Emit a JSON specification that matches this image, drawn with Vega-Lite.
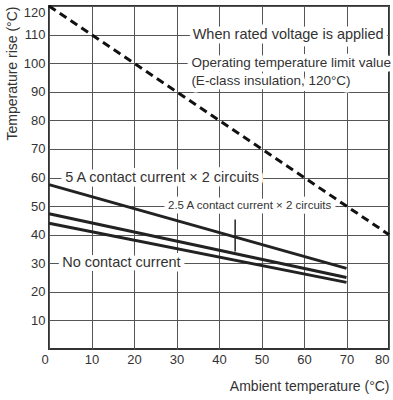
{
  "$schema": "https://vega.github.io/schema/vega-lite/v6.json",
  "width": 340,
  "height": 343,
  "autosize": "none",
  "padding": {"left": 49, "top": 6, "right": 4, "bottom": 51},
  "background": "white",
  "config": {
    "view": {"stroke": "#333", "strokeWidth": 2},
    "font": "Liberation Sans",
    "axis": {"labelOverlap": false, "labelBound": false}
  },
  "datasets": {
    "curves": [
      {"x": 0, "y": 57.5, "series": "5 A contact current × 2 circuits"},
      {"x": 70, "y": 28.2, "series": "5 A contact current × 2 circuits"},
      {"x": 0, "y": 47.3, "series": "2.5 A contact current × 2 circuits"},
      {"x": 70, "y": 25.0, "series": "2.5 A contact current × 2 circuits"},
      {"x": 0, "y": 44.0, "series": "No contact current"},
      {"x": 70, "y": 23.3, "series": "No contact current"}
    ],
    "limit": [
      {"x": 0, "y": 120},
      {"x": 80, "y": 40}
    ],
    "labels": [
      {"x": 33.8, "y": 110, "text": "When rated voltage is applied"},
      {"x": 3.8, "y": 60, "text": "5 A contact current × 2 circuits"},
      {"x": 3.1, "y": 30, "text": "No contact current"}
    ],
    "limitLabels": [
      {"x": 33.5, "y": 100, "text": "Operating temperature limit value"},
      {"x": 33.5, "y": 93.9, "text": "(E-class insulation, 120°C)"}
    ],
    "small": [
      {"x": 28, "y": 50, "text": "2.5 A contact current × 2 circuits"}
    ],
    "leader": [
      {"x": 43.8, "y": 45.3, "y2": 34.1}
    ]
  },
  "encoding": {
    "x": {
      "field": "x", "type": "quantitative",
      "scale": {"domain": [0, 80], "nice": false},
      "axis": {
        "values": [0, 10, 20, 30, 40, 50, 60, 70, 80],
        "grid": true, "gridColor": "#555", "gridWidth": 1,
        "ticks": false, "domain": false, "labelOverlap": false,
        "labelFontSize": 13, "labelColor": "#333", "labelPadding": 4,
        "labelFont": "Liberation Sans",
        "labelOffset": {"condition": {"test": "datum.value == 0", "value": -8}, "value": 0},
        "title": "Ambient temperature (°C)",
        "titleFontSize": 14, "titleFontWeight": "normal", "titleColor": "#333",
        "titleFont": "Liberation Sans",
        "titleX": 340, "titleY": 41, "titleAlign": "right", "titleBaseline": "alphabetic"
      }
    },
    "y": {
      "field": "y", "type": "quantitative",
      "scale": {"domain": [0, 120], "nice": false},
      "axis": {
        "values": [10, 20, 30, 40, 50, 60, 70, 80, 90, 100, 110, 120],
        "grid": true, "gridColor": "#555", "gridWidth": 1,
        "ticks": false, "domain": false, "labelOverlap": false,
        "labelFontSize": 13, "labelColor": "#333", "labelPadding": 4,
        "labelFont": "Liberation Sans",
        "labelFlush": true, "labelFlushOffset": 0,
        "title": "Temperature rise (°C)",
        "titleFontSize": 14, "titleFontWeight": "normal", "titleColor": "#333",
        "titleFont": "Liberation Sans",
        "titleX": -37, "titleY": 0, "titleAlign": "right", "titleBaseline": "middle", "titleAngle": -90
      }
    }
  },
  "layer": [
    {
      "data": {"name": "curves"},
      "mark": {"type": "line", "color": "#222", "strokeWidth": 3},
      "encoding": {"detail": {"field": "series"}}
    },
    {
      "data": {"name": "limit"},
      "mark": {"type": "line", "color": "#111", "strokeWidth": 3, "strokeDash": [8, 5]},
      "encoding": {}
    },
    {
      "data": {"name": "labels"},
      "mark": {"type": "text", "align": "left", "baseline": "middle", "fontSize": 14.5, "font": "Liberation Sans", "color": "white", "stroke": "white", "strokeWidth": 9, "strokeJoin": "round"},
      "encoding": {"text": {"field": "text"}}
    },
    {
      "data": {"name": "labels"},
      "mark": {"type": "text", "align": "left", "baseline": "middle", "fontSize": 14.5, "font": "Liberation Sans", "color": "#333"},
      "encoding": {"text": {"field": "text"}}
    },
    {
      "data": {"name": "limitLabels"},
      "mark": {"type": "text", "align": "left", "baseline": "middle", "fontSize": 13.5, "font": "Liberation Sans", "color": "white", "stroke": "white", "strokeWidth": 9, "strokeJoin": "round"},
      "encoding": {"text": {"field": "text"}}
    },
    {
      "data": {"name": "limitLabels"},
      "mark": {"type": "text", "align": "left", "baseline": "middle", "fontSize": 13.5, "font": "Liberation Sans", "color": "#333"},
      "encoding": {"text": {"field": "text"}}
    },
    {
      "data": {"name": "small"},
      "mark": {"type": "text", "align": "left", "baseline": "middle", "fontSize": 11.5, "font": "Liberation Sans", "color": "white", "stroke": "white", "strokeWidth": 9, "strokeJoin": "round"},
      "encoding": {"text": {"field": "text"}}
    },
    {
      "data": {"name": "small"},
      "mark": {"type": "text", "align": "left", "baseline": "middle", "fontSize": 11.5, "font": "Liberation Sans", "color": "#333"},
      "encoding": {"text": {"field": "text"}}
    },
    {
      "data": {"name": "leader"},
      "mark": {"type": "rule", "color": "#222", "strokeWidth": 1.5},
      "encoding": {"y2": {"field": "y2"}}
    }
  ]
}
